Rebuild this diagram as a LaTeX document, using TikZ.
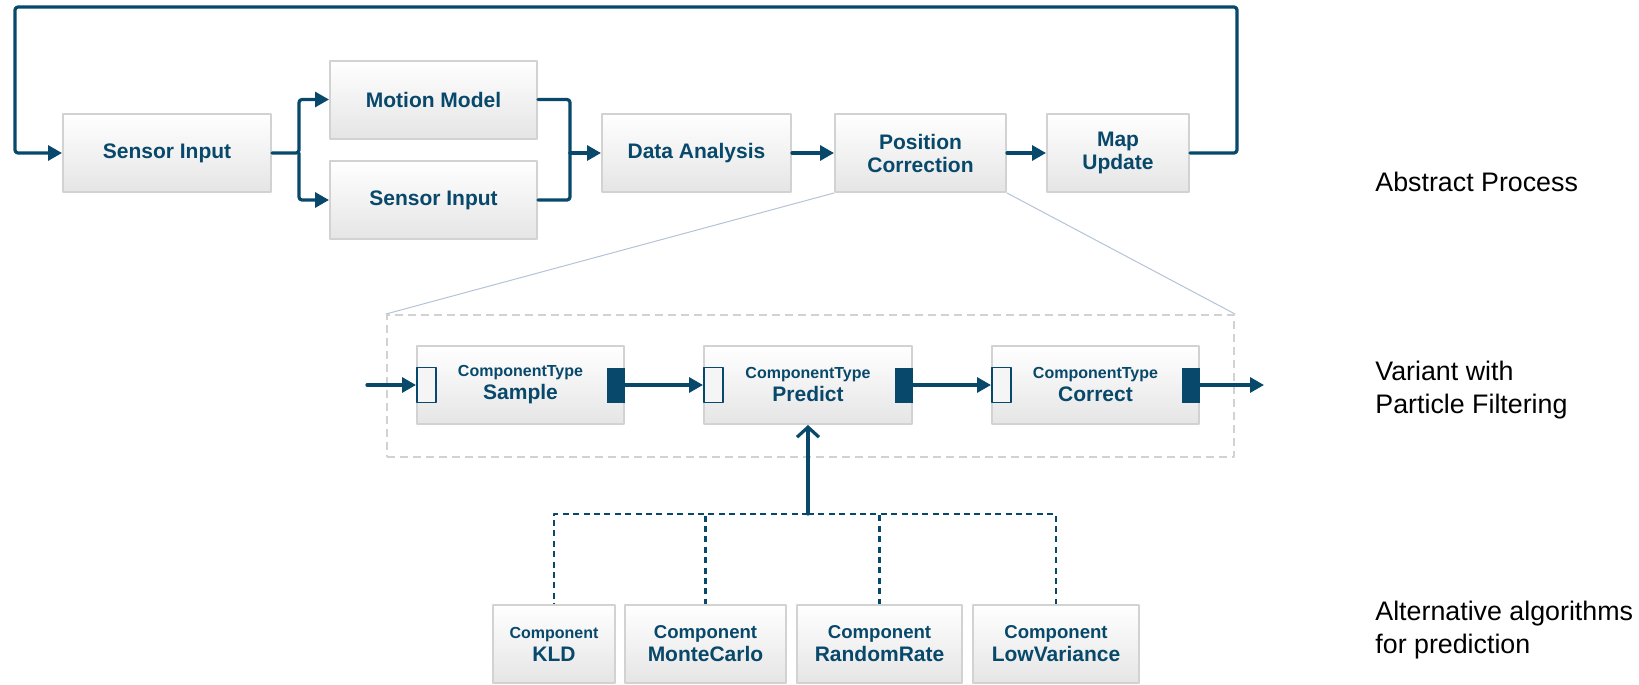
\documentclass[tikz,border=0pt]{standalone}
\usepackage{fontspec}
\setmainfont{Liberation Sans}
\usetikzlibrary{arrows.meta}
\definecolor{navy}{RGB}{8,72,106}
\definecolor{boxline}{RGB}{210,210,210}
\definecolor{boxlow}{RGB}{229,229,229}
\definecolor{zoomline}{RGB}{180,195,215}
\newcommand{\boxfont}{\fontsize{10.5}{11.5}\selectfont\bfseries}
\newcommand{\typefont}{\fontsize{8}{9}\selectfont}
\newcommand{\compfont}{\fontsize{9.3}{10}\selectfont}
\newcommand{\notefont}{\fontsize{13.4}{16.5}\selectfont}
\begin{document}
\begin{tikzpicture}[x=0.5pt, y=-0.5pt, line join=round, line cap=round,
	box/.style={draw=boxline, line width=1pt, top color=white, bottom color=boxlow,
		minimum height=39pt, inner sep=0pt, align=center, text=navy, font=\boxfont},
	flow/.style={draw=navy, line width=1.6pt, rounded corners=1.5pt, -{Triangle[length=7pt,width=7.5pt]}},
	link/.style={draw=navy, line width=1.6pt, rounded corners=1.5pt},
	inport/.style={draw=navy, line width=0.8pt, fill=white!60!boxlow, minimum width=9.5pt, minimum height=17.5pt, inner sep=0pt},
	outport/.style={fill=navy, minimum width=9pt, minimum height=17.5pt, inner sep=0pt},
	tree/.style={draw=navy, line width=1.4pt, line cap=butt, dash pattern=on 3pt off 2.2pt},
	frame/.style={draw=boxline, line width=1pt, line cap=butt, dash pattern=on 4pt off 2.5pt, minimum width=423.5pt, minimum height=71pt, inner sep=0pt},
	zoom/.style={draw=zoomline, line width=0.5pt},
	note/.style={anchor=west, align=left, font=\notefont, inner sep=0pt}]
	\useasboundingbox (0,0) rectangle (1639,685);
	% abstract process
	\node[box, minimum width=104pt] (sens) at (167,153) {Sensor Input};
	\node[box, minimum width=103.5pt] (motion) at (433.5,99.5) {Motion Model};
	\node[box, minimum width=103.5pt] (sens2) at (433.5,200) {Sensor Input};
	\node[box, minimum width=94.5pt] (data) at (696.5,153) {Data Analysis};
	\node[box, minimum width=85.5pt] (pos) at (920.5,153) {Position\\Correction};
	\node[box, minimum width=71pt] (map) at (1118,153) {Map\\Update};
	\coordinate (split) at (299,153);
	\coordinate (merge) at (570,153);
	\draw[flow] (sens.east) -- (split) |- (motion.west);
	\draw[flow] (split) |- (sens2.west);
	\draw[link] (motion.east) -| (merge);
	\draw[link] (sens2.east) -| (merge);
	\draw[flow] (merge) -- (data.west);
	\draw[flow] (data.east) -- (pos.west);
	\draw[flow] (pos.east) -- (map.west);
	\draw[flow] (map.east) -- (1237,153) -- (1237,7) -- (15,7) -- (15,153) -- (sens.west);
	% particle filtering
	\node[frame] (frm) at (810.5,386) {};
	\draw[zoom] (pos.south west) -- (frm.north west);
	\draw[zoom] (pos.south east) -- (frm.north east);
	\node[box, minimum width=103.5pt] (sample) at (520.5,385) {{\typefont ComponentType}\\Sample};
	\node[box, minimum width=104pt] (predict) at (808,385) {{\typefont ComponentType}\\Predict};
	\node[box, minimum width=103.5pt] (correct) at (1095.5,385) {{\typefont ComponentType}\\Correct};
	\foreach \n in {sample,predict,correct}{
		\node[inport, anchor=west] (\n-in) at (\n.west) {};
		\node[outport, anchor=east] (\n-out) at (\n.east) {};
	}
	\coordinate (in) at (367,385);
	\coordinate (out) at (1264,385);
	\draw[flow] (in) -- (sample-in.west);
	\draw[flow] (sample-out.east) -- (predict-in.west);
	\draw[flow] (predict-out.east) -- (correct-in.west);
	\draw[flow] (correct-out.east) -- (out);
	% alternatives
	\node[box, minimum width=61pt] (kld) at (554,644) {{\typefont Component}\\KLD};
	\node[box, minimum width=80.5pt] (monte) at (705.5,644) {{\compfont Component}\\MonteCarlo};
	\node[box, minimum width=82.5pt] (random) at (879.5,644) {{\compfont Component}\\RandomRate};
	\node[box, minimum width=83pt] (lowvar) at (1056,644) {{\compfont Component}\\LowVariance};
	\coordinate (hub) at (808,514);
	\foreach \n in {kld,monte,random,lowvar}
		\draw[tree] (hub) -| (\n.north);
	\draw[draw=navy, line width=1.6pt, -{Straight Barb[length=5pt,width=11pt]}] (hub) -- (predict.south);
	% notes
	\node[note] (n1) at (1375,182) {Abstract Process};
	\node[note] (n2) at (1375,390) {Variant with\\Particle Filtering};
	\node[note] (n3) at (1375,630) {Alternative algorithms\\for prediction};
\end{tikzpicture}
\end{document}
